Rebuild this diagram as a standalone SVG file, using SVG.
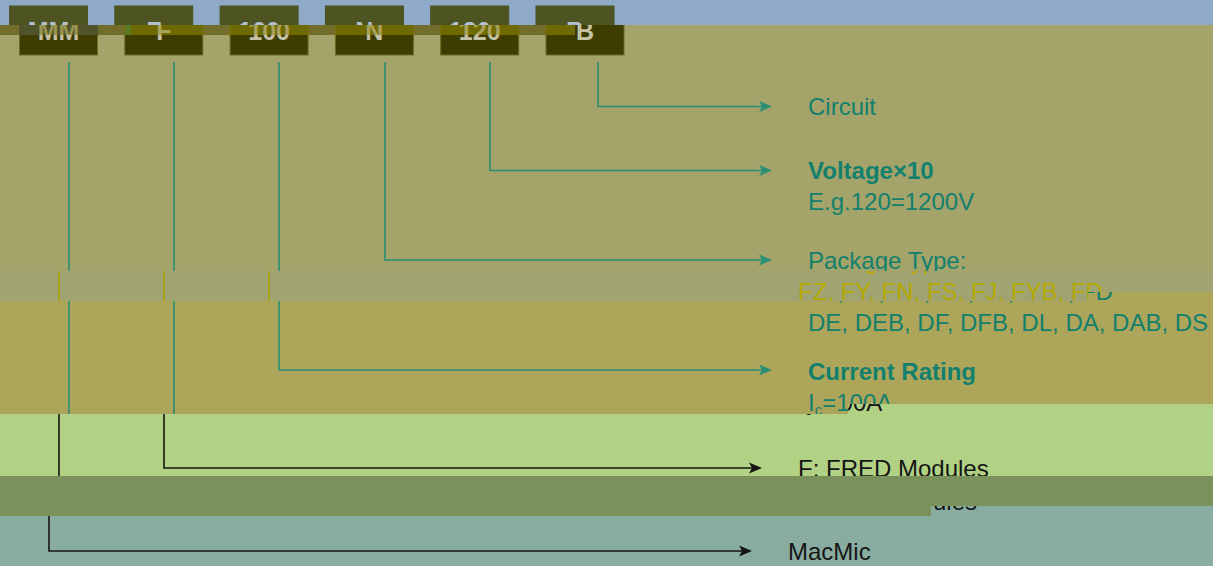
<svg xmlns="http://www.w3.org/2000/svg" width="1213" height="566" viewBox="0 0 1213 566">
<defs>
<style>
svg{--box:#3E3C00;--bs:#6B6B22;--bt:#C3C2A6;--ln:#2A8F74;--lb:#13806D}
.box{fill:var(--box);stroke:var(--bs);stroke-width:1}
.bt{fill:var(--bt);font-family:"Liberation Sans",Arial,sans-serif;font-size:25px;font-weight:bold;text-anchor:middle}
.ln{fill:none;stroke:var(--ln);stroke-width:1.6}
.ah{fill:var(--ln)}
.lb{fill:var(--lb);font-family:"Liberation Sans",Arial,sans-serif;font-size:24px}
.b{font-weight:bold}
.teal{--ln:#2A8F74;--lb:#13806D}
.yel{--ln:#ABA300;--lb:#B4A900}
.blk{--ln:#151515;--lb:#151515}
.bandA{--box:#4D5421;--bs:#4D5421;--bt:#B3C0D2}
.strip{--box:#6E6A00;--bs:#777300;--bt:#A8A25E}
.stripM{--box:#51542A;--bs:#51542A;--bt:#9A9550}
.bandB{--box:#3E3C00;--bs:#6B6B22;--bt:#C3C2A6}
</style>
<path id="ah" d="M0,0 L-13,-5.5 L-10,0 L-13,5.5 Z"/>
<clipPath id="cA"><rect x="0" y="0" width="1213" height="25"/></clipPath>
<clipPath id="cS"><rect x="0" y="25" width="575" height="10"/></clipPath>
<clipPath id="cSM"><rect x="19" y="25" width="79" height="10"/></clipPath>
<clipPath id="cB1"><rect x="0" y="25" width="1213" height="37"/></clipPath>
<clipPath id="cBD"><rect x="0" y="62" width="1213" height="209"/><rect x="1088" y="292" width="125" height="9"/><rect x="0" y="301" width="848" height="113"/><rect x="848" y="301" width="365" height="103"/></clipPath>
<clipPath id="cC"><rect x="0" y="271" width="1088" height="30"/><rect x="1088" y="271" width="125" height="21"/></clipPath>
<clipPath id="cE"><rect x="0" y="414" width="848" height="62"/><rect x="848" y="404" width="365" height="72"/></clipPath>
<clipPath id="cG"><rect x="0" y="516" width="931" height="50"/><rect x="931" y="506" width="282" height="60"/></clipPath>
</defs>

<g id="bands">
<rect x="0" y="0" width="1213" height="25" fill="#8FAAC8"/>
<rect x="0" y="25" width="1213" height="246" fill="#A4A36A"/>
<rect x="0" y="271" width="1088" height="30" fill="#A0A372"/>
<rect x="1088" y="271" width="125" height="21" fill="#A0A372"/>
<rect x="0" y="301" width="848" height="113" fill="#ADA55A"/>
<rect x="848" y="301" width="365" height="103" fill="#ADA55A"/>
<rect x="1088" y="292" width="125" height="9" fill="#ADA55A"/>
<rect x="0" y="414" width="848" height="62" fill="#B1D184"/>
<rect x="848" y="404" width="365" height="72" fill="#B1D184"/>
<rect x="0" y="476" width="931" height="40" fill="#7A915C"/>
<rect x="931" y="476" width="282" height="30" fill="#7A915C"/>
<rect x="0" y="516" width="931" height="50" fill="#88ACA0"/>
<rect x="931" y="506" width="282" height="60" fill="#88ACA0"/>
</g>

<g clip-path="url(#cBD)" class="teal">
<g transform="translate(20,0)">
<g id="diagram">
<g id="connectors">
<path class="ln" d="M578,62 V106.5 H743"/><use href="#ah" class="ah" x="752" y="106.5"/>
<path class="ln" d="M470,62 V170.5 H743"/><use href="#ah" class="ah" x="752" y="170.5"/>
<path class="ln" d="M365,62 V260 H743"/><use href="#ah" class="ah" x="752" y="260"/>
<path class="ln" d="M259,62 V370 H743"/><use href="#ah" class="ah" x="752" y="370"/>
<path class="ln" d="M154,62 V468 H743"/><use href="#ah" class="ah" x="752" y="468"/>
<path class="ln" d="M49,62 V551 H743"/><use href="#ah" class="ah" x="752" y="551"/>
</g>
<g id="node-MM"><rect class="box" x="9.5" y="6" width="78" height="49"/><text class="bt" x="48.5" y="39.5">MM</text></g>
<g id="node-F"><rect class="box" x="114.8" y="6" width="78" height="49"/><text class="bt" x="153.8" y="39.5">F</text></g>
<g id="node-100"><rect class="box" x="220.1" y="6" width="78" height="49"/><text class="bt" x="259.1" y="39.5">100</text></g>
<g id="node-N"><rect class="box" x="325.4" y="6" width="78" height="49"/><text class="bt" x="364.4" y="39.5">N</text></g>
<g id="node-120"><rect class="box" x="430.7" y="6" width="78" height="49"/><text class="bt" x="469.7" y="39.5">120</text></g>
<g id="node-B"><rect class="box" x="536" y="6" width="78" height="49"/><text class="bt" x="575" y="39.5">B</text></g>
<g id="label-circuit"><text class="lb" x="788" y="115">Circuit</text></g>
<g id="label-voltage"><text class="lb b" x="788" y="179">Voltage×10</text><text class="lb" x="788" y="210">E.g.120=1200V</text></g>
<g id="label-package"><text class="lb" x="788" y="269">Package Type:</text><text class="lb" x="788" y="300">FZ, FY, FN, FS, FJ, FYB, FD</text><text class="lb" x="788" y="331">DE, DEB, DF, DFB, DL, DA, DAB, DS</text></g>
<g id="label-current"><text class="lb b" x="788" y="380">Current Rating</text><text class="lb" x="788" y="411">I<tspan font-size="15" dy="4">c</tspan><tspan dy="-4">=100A</tspan></text></g>
<g id="label-fred"><text class="lb" x="788" y="477">F: FRED Modules</text><text class="lb" x="933" y="510">ules</text></g>
<g id="label-macmic"><text class="lb" x="788" y="559.5">MacMic</text></g>
</g>
</g>
</g>

<g clip-path="url(#cA)"><use href="#diagram" class="bandA teal"/></g>
<g clip-path="url(#cB1)"><use href="#diagram" x="10" class="bandB teal"/></g>
<g clip-path="url(#cS)">
<rect x="0" y="25" width="575" height="10" fill="#736D2C"/>
<use href="#diagram" x="10" class="strip teal"/>
<rect x="125" y="25" width="6" height="10" fill="#587A22"/>
</g>
<g clip-path="url(#cSM)"><use href="#diagram" x="10" class="stripM teal"/></g>
<g clip-path="url(#cC)"><use href="#diagram" x="10" class="yel"/></g>
<g clip-path="url(#cE)"><use href="#diagram" x="10" class="blk"/></g>
<g clip-path="url(#cG)"><use href="#diagram" class="blk"/></g>
</svg>
